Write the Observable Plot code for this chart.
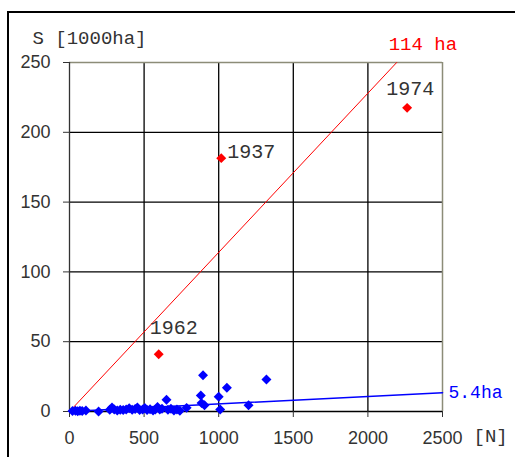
<!DOCTYPE html>
<html>
<head>
<meta charset="utf-8">
<script src="https://cdn.jsdelivr.net/npm/d3@7"></script>
<script src="https://cdn.jsdelivr.net/npm/@observablehq/plot@0.6"></script>
<style>
  html, body { margin: 0; padding: 0; background: #fff; }
  #wrap { position: relative; width: 515px; height: 457px; overflow: hidden; background: #fff; }
  #frame { position: absolute; left: 7px; top: 11px; width: 700px; height: 700px; border-left: 2px solid #000; border-top: 2px solid #000; }
  #chart { position: absolute; left: 0; top: 0; }
</style>
</head>
<body>
<div id="wrap"><div id="frame"></div><div id="chart"></div></div>
<script>
// Axis ticks
const xTicks = [0, 500, 1000, 1500, 2000, 2500];
const yTicks = [0, 50, 100, 150, 200, 250];

// Blue series: N (x) and S in 1000 ha (y)
const blueN = [20, 40, 55, 70, 85, 110, 195, 270, 285, 300, 320, 340, 360, 380, 400, 420, 440, 455, 470, 490, 505, 520, 540, 560, 575, 590, 605, 620, 650, 660, 680, 700, 720, 740, 785, 880, 885, 895, 905, 1000, 1010, 1055, 1200, 1320];
const blueS = [0.3, 0.5, 0.2, 0.6, 0.4, 0.8, 0.0, 1.2, 2.8, 1.5, 0.8, 1.2, 1.0, 1.5, 2.4, 1.2, 1.8, 2.8, 1.0, 1.5, 2.5, 1.0, 1.6, 0.8, 1.4, 3.2, 1.5, 2.0, 8.5, 1.2, 2.0, 0.8, 1.4, 0.6, 2.6, 11.5, 6.0, 26.0, 4.5, 10.5, 1.5, 17.0, 4.5, 23.0];

// Red (labelled) series
const redYears = ["1962", "1937", "1974"];
const redN = [598, 1017, 2263];
const redS = [41, 181.5, 217.5];

// Trend lines: S[1000ha] = slope * N
const trendLabels = ["114 ha", "5.4ha"];
const trendSlopes = [0.114, 0.0054];
const trendColors = ["#ff0000", "#0000ff"];

const xMax = 2500, yMax = 250;
const blue = blueN.map((n, i) => ({n, s: blueS[i]}));
const red = redN.map((n, i) => ({n, s: redS[i], year: redYears[i]}));
const trends = trendSlopes.map((k, i) => {
  const nEnd = Math.min(xMax, yMax / k);
  return {label: trendLabels[i], color: trendColors[i], pts: [{n: 0, s: 0}, {n: nEnd, s: k * nEnd}]};
});

const mono = "'Liberation Mono', 'DejaVu Sans Mono', monospace";
const txt = "#333";

const chart = Plot.plot({
  width: 515,
  height: 457,
  marginLeft: 69,
  marginRight: 73,
  marginTop: 62,
  marginBottom: 46,
  style: {fontFamily: "'Liberation Sans', Arial, sans-serif", fontSize: "18px", color: txt, background: "transparent", overflow: "visible"},
  x: {domain: [0, xMax], ticks: xTicks},
  y: {domain: [0, yMax], ticks: yTicks},
  marks: [
    Plot.ruleX(xTicks.slice(1, -1), {stroke: "#000", strokeWidth: 1.3}),
    Plot.ruleY(yTicks.slice(1, -1), {stroke: "#000", strokeWidth: 1.3}),
    Plot.ruleX([xMax], {stroke: "#8c8c78", strokeWidth: 1.5}),
    Plot.ruleY([yMax], {stroke: "#8c8c78", strokeWidth: 1.5}),
    Plot.ruleX([0], {stroke: "#333", strokeWidth: 1.3}),
    Plot.ruleY([0], {stroke: "#000", strokeWidth: 1.3}),
    Plot.axisY({ticks: yTicks, tickSize: 6, tickPadding: 13, fontSize: 18, label: null, tickFormat: d => String(d)}),
    Plot.axisX({ticks: xTicks, tickSize: 6, tickPadding: 14, fontSize: 18, label: null, tickFormat: d => String(d)}),
    ...trends.map(t => Plot.line(t.pts, {x: "n", y: "s", stroke: t.color, strokeWidth: t.color === "#ff0000" ? 1 : 1.5})),
    Plot.text([trends[0]], {x: d => d.pts[1].n, y: d => d.pts[1].s, text: "label", fill: "#ff0000", textAnchor: "start", dx: -8, dy: -19, fontFamily: mono, fontSize: 19}),
    Plot.text([trends[1]], {x: d => d.pts[1].n, y: d => d.pts[1].s, text: "label", fill: "#0000ff", textAnchor: "start", dx: 6, dy: 0, fontFamily: mono, fontSize: 18}),
    Plot.dot(blue, {x: "n", y: "s", symbol: "diamond2", r: 4.5, fill: "#0000ff", stroke: "none"}),
    Plot.dot(red, {x: "n", y: "s", symbol: "diamond2", r: 4.5, fill: "#ff0000", stroke: "none"}),
    Plot.text([red[0]], {x: "n", y: "s", text: "year", textAnchor: "start", dx: -9, dy: -27, fontFamily: mono, fontSize: 20, fill: txt}),
    Plot.text([red[1]], {x: "n", y: "s", text: "year", textAnchor: "start", dx: 6, dy: -7, fontFamily: mono, fontSize: 20, fill: txt}),
    Plot.text([red[2]], {x: "n", y: "s", text: "year", textAnchor: "middle", dx: 3, dy: -19, fontFamily: mono, fontSize: 20, fill: txt}),
    Plot.text(["S [1000ha]"], {frameAnchor: "top-left", text: d => d, textAnchor: "start", dx: -37, dy: -32, fontFamily: mono, fontSize: 19, fill: txt}),
    Plot.text(["[N]"], {frameAnchor: "bottom-right", text: d => d, textAnchor: "start", dx: 31, dy: 30, fontFamily: mono, fontSize: 19, fill: txt})
  ]
});
document.getElementById("chart").appendChild(chart);
</script>
</body>
</html>
